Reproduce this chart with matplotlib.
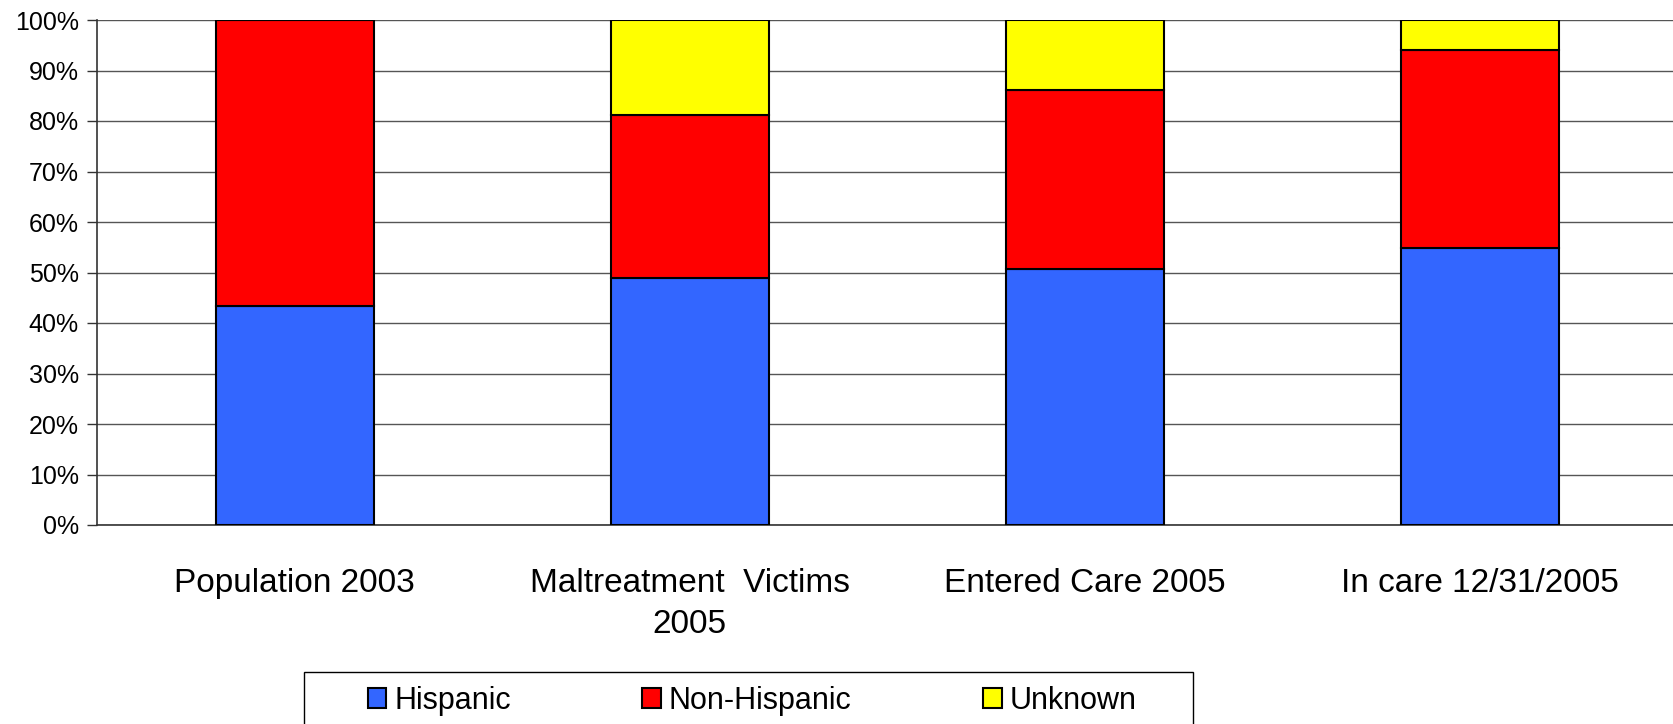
import numpy as np
from matplotlib import pyplot as plt
from matplotlib.patches import Rectangle

plt.rcParams['font.family'] = ['Liberation Sans', 'DejaVu Sans']

categories = ['Population 2003', 'Maltreatment  Victims\n2005', 'Entered Care 2005', 'In care 12/31/2005']
hispanic = [43.4, 48.9, 50.6, 54.9]
non_hispanic = [56.6, 32.3, 35.5, 39.2]
unknown = [0.0, 18.8, 13.9, 5.9]

series = [('Hispanic', hispanic, '#3366FF'),
          ('Non-Hispanic', non_hispanic, '#FF0000'),
          ('Unknown', unknown, '#FFFF00')]

fig = plt.figure(figsize=(16.73, 7.24), dpi=100)
W, H = 1673, 724
ax = fig.add_axes([97 / W, (H - 525) / H, 1580 / W, 505 / H])

x = np.arange(len(categories))
bottom = np.zeros(len(categories))
for name, vals, col in series:
    vals = np.array(vals)
    ax.bar(x, vals, 0.4, bottom=bottom, color=col, edgecolor='black', linewidth=1.5, label=name, zorder=3)
    bottom += vals

ax.set_xlim(-0.5, 3.5)
ax.set_ylim(0, 100)
ax.set_yticks(np.arange(0, 101, 10))
ax.set_yticklabels(['%d%%' % v for v in range(0, 101, 10)], fontsize=18)
ax.set_xticks(x)
ax.set_xticklabels(categories, fontsize=24, linespacing=1.4)
ax.tick_params(axis='x', length=0, pad=31)
ax.tick_params(axis='y', length=7, width=1, color='#333333', direction='out', pad=6)
ax.yaxis.grid(True, color='#555555', linewidth=1, zorder=0)
for s in ['top', 'right']:
    ax.spines[s].set_visible(False)
ax.spines['left'].set_color('#333333')
ax.spines['bottom'].set_color('#333333')
ax.spines['left'].set_linewidth(1.2)
ax.spines['bottom'].set_linewidth(1.2)

# legend box, running off the bottom edge like the original
fig.patches.append(Rectangle((304 / W, -0.05), 889 / W, 0.05 + 52 / H, transform=fig.transFigure,
                             facecolor='white', edgecolor='black', linewidth=1, zorder=1))
handles, labels = ax.get_legend_handles_labels()
leg = fig.legend(handles, labels, loc='center', bbox_to_anchor=(752 / W, 23 / H),
                 ncol=3, fontsize=22, frameon=False, handlelength=0.62, handleheight=0.62,
                 handletextpad=0.25, columnspacing=4.3, borderaxespad=0, borderpad=0)
leg.set_zorder(2)
for h in leg.legend_handles:
    h.set_linewidth(1.5)

fig.savefig('out.png', dpi=100)
